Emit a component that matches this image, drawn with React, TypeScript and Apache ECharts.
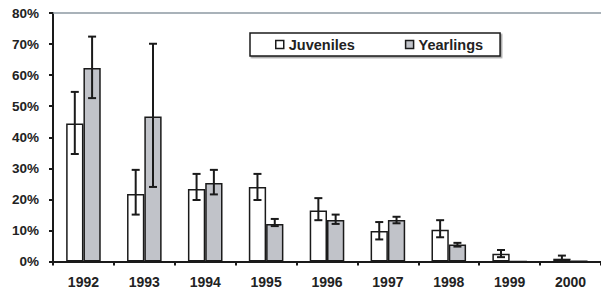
import React, { useEffect, useRef } from "react";
import * as echarts from "echarts";

const categories = ["1992", "1993", "1994", "1995", "1996", "1997", "1998", "1999", "2000"];
const juveniles = [44.4, 21.7, 23.3, 24.0, 16.4, 9.8, 10.2, 2.5, 0.9];
const yearlings = [62.3, 46.7, 25.3, 12.1, 13.4, 13.4, 5.5, 0, 0.2];
const juvenilesLow = [34.6, 15.1, 19.8, 19.8, 13.3, 7.1, 7.8, 1.4, 0];
const juvenilesHigh = [54.6, 29.5, 28.2, 28.2, 20.4, 12.7, 13.3, 3.7, 1.9];
const yearlingsLow = [52.6, 24.0, 21.6, 11.4, 12.1, 12.3, 4.8, null, null];
const yearlingsHigh = [72.4, 70.1, 29.5, 13.7, 15.1, 14.4, 6.0, null, null];
const yTicks = [0, 10, 20, 30, 40, 50, 60, 70, 80];

const BAR_RATIO = 0.284;
const FONT = "'Liberation Sans', Arial, Helvetica, sans-serif";

function errorSeries(low: (number | null)[], high: (number | null)[], side: number) {
  const data = low
    .map((l, i) => (l === null || high[i] === null ? null : [i, l, high[i]]))
    .filter((d) => d !== null);
  return {
    type: "custom",
    silent: true,
    z: 10,
    encode: { x: 0, y: [1, 2] },
    data,
    renderItem: (params: any, api: any) => {
      const idx = api.value(0);
      const lo = api.value(1);
      const hi = api.value(2);
      const band = api.size([1, 0])[0];
      const bw = band * BAR_RATIO;
      const pLo = api.coord([idx, lo]);
      const pHi = api.coord([idx, hi]);
      const cx = pLo[0] + (side * bw) / 2;
      const cap = 4;
      const style = { stroke: "#1a1a1a", lineWidth: 2, fill: "none" };
      return {
        type: "group",
        children: [
          { type: "line", shape: { x1: cx, y1: pLo[1], x2: cx, y2: pHi[1] }, style },
          { type: "line", shape: { x1: cx - cap, y1: pHi[1], x2: cx + cap, y2: pHi[1] }, style },
          { type: "line", shape: { x1: cx - cap, y1: pLo[1], x2: cx + cap, y2: pLo[1] }, style },
        ],
      };
    },
  };
}

export default function App() {
  const ref = useRef<HTMLDivElement>(null);
  useEffect(() => {
    document.body.style.margin = "0";
    const chart = echarts.init(ref.current!, null, { renderer: "svg" });
    chart.setOption({
      animation: false,
      backgroundColor: "#ffffff",
      textStyle: { fontFamily: FONT },
      grid: { left: 53, right: -9, top: 13, bottom: 29.5, containLabel: false },
      legend: {
        data: ["Juveniles", "Yearlings"],
        left: 250,
        top: 33,
        orient: "horizontal",
        icon: "rect",
        itemWidth: 8,
        itemHeight: 8,
        itemGap: 50,
        itemTextGap: 4,
        padding: [4, 17, 4, 25],
        backgroundColor: "#ffffff",
        borderColor: "#1a1a1a",
        borderWidth: 1.5,
        borderRadius: 0,
        shadowColor: "rgba(0,0,0,0.35)",
        shadowOffsetX: 1.5,
        shadowOffsetY: 1.5,
        shadowBlur: 1,
        itemStyle: { borderColor: "#1a1a1a", borderWidth: 1.5 },
        textStyle: { fontFamily: FONT, fontSize: 14.5, fontWeight: "bold", color: "#222" },
      },
      xAxis: [
        {
          type: "category",
          data: categories,
          position: "bottom",
          axisLine: { lineStyle: { color: "#1a1a1a", width: 2 } },
          axisTick: { show: true, length: 4, lineStyle: { color: "#1a1a1a", width: 2 } },
          axisLabel: { fontFamily: FONT, fontSize: 14, fontWeight: "bold", color: "#222", margin: 13 },
          splitLine: { show: false },
        },
        {
          type: "category",
          data: categories,
          position: "top",
          axisLine: { lineStyle: { color: "#8d99a2", width: 1.5 } },
          axisTick: { show: false },
          axisLabel: { show: false },
        },
      ],
      yAxis: {
        type: "value",
        min: yTicks[0],
        max: yTicks[yTicks.length - 1],
        interval: 10,
        axisLine: { show: true, lineStyle: { color: "#1a1a1a", width: 2 } },
        axisTick: { show: true, length: 4, lineStyle: { color: "#1a1a1a", width: 2 } },
        axisLabel: {
          formatter: "{value}%",
          fontFamily: FONT,
          fontSize: 13.5,
          fontWeight: "bold",
          color: "#222",
          margin: 14,
        },
        splitLine: { show: false },
      },
      series: [
        {
          name: "Juveniles",
          type: "bar",
          data: juveniles,
          barWidth: BAR_RATIO * 100 + "%",
          barGap: "0%",
          itemStyle: { color: "#ffffff", borderColor: "#1a1a1a", borderWidth: 1.5 },
        },
        {
          name: "Yearlings",
          type: "bar",
          data: yearlings,
          barWidth: BAR_RATIO * 100 + "%",
          barGap: "0%",
          itemStyle: { color: "#c1c3c9", borderColor: "#1a1a1a", borderWidth: 1.5 },
        },
        errorSeries(juvenilesLow, juvenilesHigh, -1),
        errorSeries(yearlingsLow, yearlingsHigh, 1),
      ],
    });
    return () => chart.dispose();
  }, []);
  return <div ref={ref} style={{ width: 601, height: 291 }} />;
}
